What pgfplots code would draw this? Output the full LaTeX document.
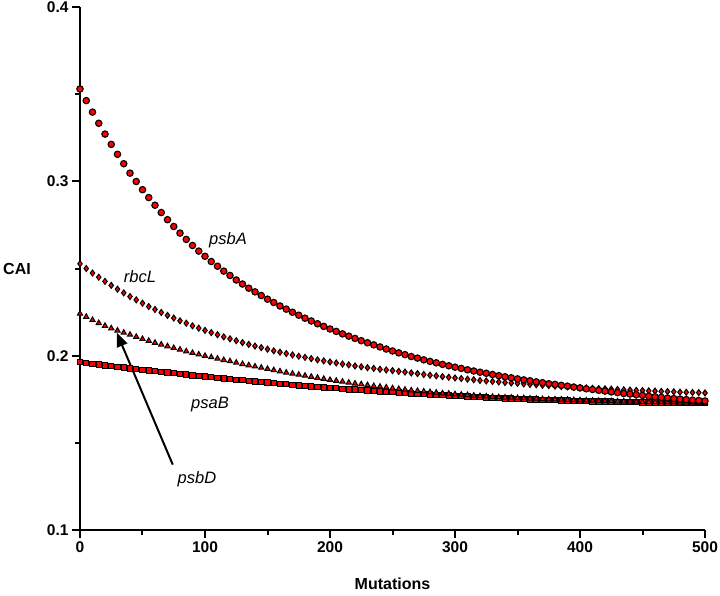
\documentclass[border=0pt]{standalone}
\usepackage{fontspec}
\setmainfont{Liberation Sans}
\usepackage{pgfplots}
\pgfplotsset{compat=1.18}
\usepackage{pgfplotstable}
\usetikzlibrary{arrows.meta}
\pgfplotstableread{
x A R D B
0 0.3530 0.2527 0.2241 0.1962
5 0.3463 0.2500 0.2223 0.1957
10 0.3397 0.2474 0.2205 0.1953
15 0.3333 0.2450 0.2187 0.1949
20 0.3271 0.2426 0.2171 0.1944
25 0.3212 0.2403 0.2157 0.1940
30 0.3155 0.2381 0.2144 0.1935
35 0.3101 0.2360 0.2132 0.1931
40 0.3047 0.2339 0.2120 0.1927
45 0.2999 0.2320 0.2108 0.1923
50 0.2952 0.2301 0.2096 0.1919
55 0.2907 0.2282 0.2085 0.1915
60 0.2863 0.2265 0.2074 0.1911
65 0.2821 0.2248 0.2064 0.1907
70 0.2780 0.2231 0.2054 0.1903
75 0.2741 0.2216 0.2044 0.1899
80 0.2703 0.2200 0.2035 0.1895
85 0.2667 0.2186 0.2025 0.1891
90 0.2632 0.2171 0.2016 0.1887
95 0.2600 0.2158 0.2007 0.1884
100 0.2570 0.2145 0.1999 0.1880
105 0.2540 0.2132 0.1991 0.1876
110 0.2513 0.2120 0.1983 0.1873
115 0.2485 0.2108 0.1975 0.1869
120 0.2460 0.2097 0.1968 0.1866
125 0.2434 0.2086 0.1960 0.1862
130 0.2411 0.2075 0.1952 0.1859
135 0.2387 0.2065 0.1945 0.1855
140 0.2366 0.2055 0.1938 0.1852
145 0.2345 0.2046 0.1931 0.1849
150 0.2324 0.2037 0.1924 0.1845
155 0.2305 0.2028 0.1917 0.1842
160 0.2285 0.2020 0.1910 0.1839
165 0.2267 0.2012 0.1903 0.1836
170 0.2249 0.2004 0.1897 0.1833
175 0.2232 0.1997 0.1891 0.1830
180 0.2215 0.1990 0.1885 0.1827
185 0.2199 0.1983 0.1879 0.1824
190 0.2183 0.1976 0.1873 0.1821
195 0.2168 0.1970 0.1867 0.1818
200 0.2153 0.1964 0.1861 0.1816
205 0.2139 0.1958 0.1856 0.1813
210 0.2125 0.1952 0.1851 0.1810
215 0.2112 0.1947 0.1845 0.1807
220 0.2099 0.1941 0.1840 0.1805
225 0.2086 0.1936 0.1836 0.1802
230 0.2074 0.1931 0.1831 0.1800
235 0.2062 0.1927 0.1826 0.1797
240 0.2050 0.1922 0.1822 0.1795
245 0.2038 0.1918 0.1818 0.1792
250 0.2027 0.1914 0.1813 0.1790
255 0.2016 0.1910 0.1809 0.1788
260 0.2006 0.1906 0.1805 0.1785
265 0.1995 0.1901 0.1801 0.1783
270 0.1986 0.1897 0.1798 0.1781
275 0.1976 0.1892 0.1795 0.1779
280 0.1967 0.1888 0.1791 0.1777
285 0.1959 0.1884 0.1788 0.1775
290 0.1950 0.1880 0.1784 0.1773
295 0.1942 0.1876 0.1782 0.1771
300 0.1934 0.1872 0.1779 0.1769
305 0.1927 0.1869 0.1776 0.1767
310 0.1919 0.1865 0.1774 0.1765
315 0.1912 0.1862 0.1771 0.1763
320 0.1905 0.1858 0.1768 0.1762
325 0.1899 0.1855 0.1766 0.1760
330 0.1892 0.1852 0.1764 0.1758
335 0.1885 0.1849 0.1762 0.1757
340 0.1879 0.1846 0.1760 0.1755
345 0.1873 0.1843 0.1759 0.1754
350 0.1867 0.1841 0.1757 0.1752
355 0.1861 0.1838 0.1756 0.1751
360 0.1856 0.1835 0.1754 0.1749
365 0.1850 0.1833 0.1753 0.1748
370 0.1845 0.1830 0.1751 0.1747
375 0.1839 0.1828 0.1750 0.1746
380 0.1835 0.1825 0.1749 0.1744
385 0.1830 0.1823 0.1748 0.1743
390 0.1825 0.1821 0.1747 0.1742
395 0.1820 0.1819 0.1745 0.1741
400 0.1815 0.1817 0.1744 0.1740
405 0.1810 0.1815 0.1743 0.1739
410 0.1806 0.1813 0.1742 0.1738
415 0.1801 0.1811 0.1741 0.1737
420 0.1797 0.1810 0.1740 0.1736
425 0.1792 0.1808 0.1739 0.1736
430 0.1788 0.1806 0.1738 0.1735
435 0.1783 0.1804 0.1738 0.1734
440 0.1780 0.1803 0.1737 0.1733
445 0.1776 0.1801 0.1736 0.1733
450 0.1772 0.1800 0.1735 0.1732
455 0.1767 0.1798 0.1734 0.1732
460 0.1764 0.1797 0.1734 0.1731
465 0.1761 0.1795 0.1733 0.1731
470 0.1757 0.1794 0.1732 0.1730
475 0.1754 0.1793 0.1732 0.1730
480 0.1751 0.1791 0.1731 0.1730
485 0.1748 0.1790 0.1730 0.1729
490 0.1745 0.1789 0.1730 0.1729
495 0.1743 0.1788 0.1729 0.1729
500 0.1740 0.1786 0.1729 0.1729
}\cai
\begin{document}
\begin{tikzpicture}
\useasboundingbox (-80pt,-65pt) rectangle (640pt,530pt);
\begin{axis}[
  at={(0pt,0pt)}, anchor=south west,
  scale only axis, width=625pt, height=523pt,
  xmin=0, xmax=500, ymin=0.1, ymax=0.4,
  axis x line*=bottom, axis y line*=left,
  axis line style={line width=2pt, -},
  xtick={0,100,...,500}, ytick={0.1,0.2,0.3,0.4},
  minor x tick num=1, minor y tick num=1,
  tick align=outside,
  major tick length=8pt, minor tick length=5pt,
  tick style={black, line width=2pt},
  ticklabel style={font=\fontsize{15.5}{18}\selectfont\bfseries},
  /pgf/number format/assume math mode=true,
  yticklabel style={/pgf/number format/.cd, fixed, precision=1},
  clip=false,
]
\addplot[only marks, mark=square*, mark size=2.7pt,
  mark options={fill=red, draw=black, line width=1pt}] table[x=x, y=B]{\cai};
\addplot[only marks, mark=triangle*, mark size=3pt,
  mark options={fill=red, draw=black, line width=1pt}] table[x=x, y=D]{\cai};
\addplot[only marks, mark=diamond*, mark size=3pt,
  mark options={fill=red, draw=black, line width=1pt}] table[x=x, y=R]{\cai};
\addplot[only marks, mark=*, mark size=3.2pt,
  mark options={fill=red, draw=black, line width=1.1pt}] table[x=x, y=A]{\cai};

\node[font=\fontsize{16.5}{19}\selectfont\itshape] at (axis cs:118.4,0.2665) {psbA};
\node[font=\fontsize{16.5}{19}\selectfont\itshape] at (axis cs:48,0.2455) {rbcL};
\node[font=\fontsize{16.5}{19}\selectfont\itshape] at (axis cs:104,0.1719) {psaB};
\node[font=\fontsize{16.5}{19}\selectfont\itshape] at (axis cs:93.6,0.1289) {psbD};
\draw[line width=2pt, -{Triangle[length=14pt,width=11pt]}] (axis cs:74.2,0.1375) -- (axis cs:29.4,0.2132);

\node[font=\fontsize{16}{19}\selectfont\bfseries] at (axis cs:-50.4,0.2499) {CAI};
\node[font=\fontsize{16}{19}\selectfont\bfseries, inner sep=0pt] at (axis cs:250,0.0690) {Mutations};
\end{axis}
\end{tikzpicture}
\end{document}
